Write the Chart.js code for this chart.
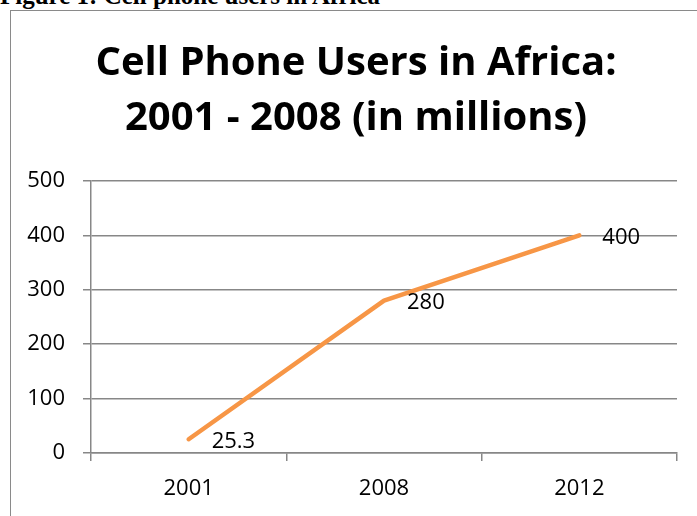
<!DOCTYPE html>
<html>
<head>
<meta charset="utf-8">
<script src="https://cdn.jsdelivr.net/npm/chart.js@4/dist/chart.umd.min.js"></script>
<style>
  html, body { margin: 0; padding: 0; background: #fff; overflow: hidden; }
  body { width: 697px; height: 516px; position: relative; }
  .caption {
    position: absolute; left: 0; top: -17px;
    font: bold 25px "Liberation Serif", "Times New Roman", serif;
    line-height: 25px; white-space: nowrap; color: #000;
  }
  .frame {
    position: absolute; left: 10px; top: 10px; width: 720px; height: 540px;
    border-left: 1.5px solid #8a8a8a; border-top: 1.5px solid #8a8a8a;
  }
  .wrap { position: absolute; left: 0; top: 0; width: 717px; height: 516px; }
</style>
</head>
<body>
<div class="caption">Figure 1: Cell phone users in Africa</div>
<div class="frame"></div>
<div class="wrap"><canvas id="chart"></canvas></div>
<script>
const years = ["2001", "2008", "2012"];
const users = [25.3, 280, 400];
const yMin = 0;
const yMax = 500;
const yStep = 100;
const titleLines = ["Cell Phone Users in Africa:", "2001 - 2008 (in millions)"];

const gridGray = "#878787";
const lineOrange = "#f79646";
const fontFamily = '"Open Sans", sans-serif';

// value labels to the right of each point, like Excel's "Right" position
const pointLabels = {
  id: "pointLabels",
  afterDatasetsDraw(chart) {
    const { ctx } = chart;
    const meta = chart.getDatasetMeta(0);
    ctx.save();
    ctx.font = `22px ${fontFamily}`;
    ctx.fillStyle = "#000";
    ctx.textAlign = "left";
    ctx.textBaseline = "middle";
    meta.data.forEach((pt, i) => {
      ctx.fillText(String(users[i]), pt.x + 23, pt.y + 2);
    });
    ctx.restore();
  },
};

// Excel centres the title over the whole chart box, a bit right of the plot's span
const titleShift = {
  id: "titleShift",
  afterLayout(chart) {
    chart.titleBlock.left += 10;
    chart.titleBlock.right += 10;
  },
};

new Chart(document.getElementById("chart"), {
  type: "line",
  data: {
    labels: years,
    datasets: [
      {
        data: users,
        borderColor: lineOrange,
        borderWidth: 4.5,
        borderCapStyle: "round",
        borderJoinStyle: "round",
        pointRadius: 0,
        tension: 0,
        fill: false,
      },
    ],
  },
  options: {
    responsive: true,
    maintainAspectRatio: false,
    animation: false,
    devicePixelRatio: 1,
    layout: { padding: { left: 15, right: 40, top: 0, bottom: 0 } },
    plugins: {
      legend: { display: false },
      tooltip: { enabled: false },
      title: {
        display: true,
        text: titleLines,
        color: "#000",
        font: { family: fontFamily, size: 40, weight: "bold", lineHeight: 1.375 },
        padding: { top: 36, bottom: 35 },
      },
    },
    scales: {
      x: {
        offset: true,
        grid: {
          offset: true,
          drawOnChartArea: false,
          drawTicks: true,
          tickLength: 8,
          color: gridGray,
          lineWidth: 1.5,
        },
        border: { color: gridGray, width: 1.5 },
        ticks: {
          color: "#000",
          padding: 15,
          font: { family: fontFamily, size: 22 },
          maxRotation: 0,
        },
        afterFit(scale) {
          scale.height = 63;
        },
      },
      y: {
        min: yMin,
        max: yMax,
        ticks: {
          stepSize: yStep,
          color: "#000",
          padding: 18,
          font: { family: fontFamily, size: 22 },
        },
        grid: { color: gridGray, lineWidth: 1.5, tickLength: 8 },
        border: { color: gridGray, width: 1.5 },
        afterFit(scale) {
          scale.width = 76;
        },
      },
    },
  },
  plugins: [pointLabels, titleShift],
});
</script>
</body>
</html>
